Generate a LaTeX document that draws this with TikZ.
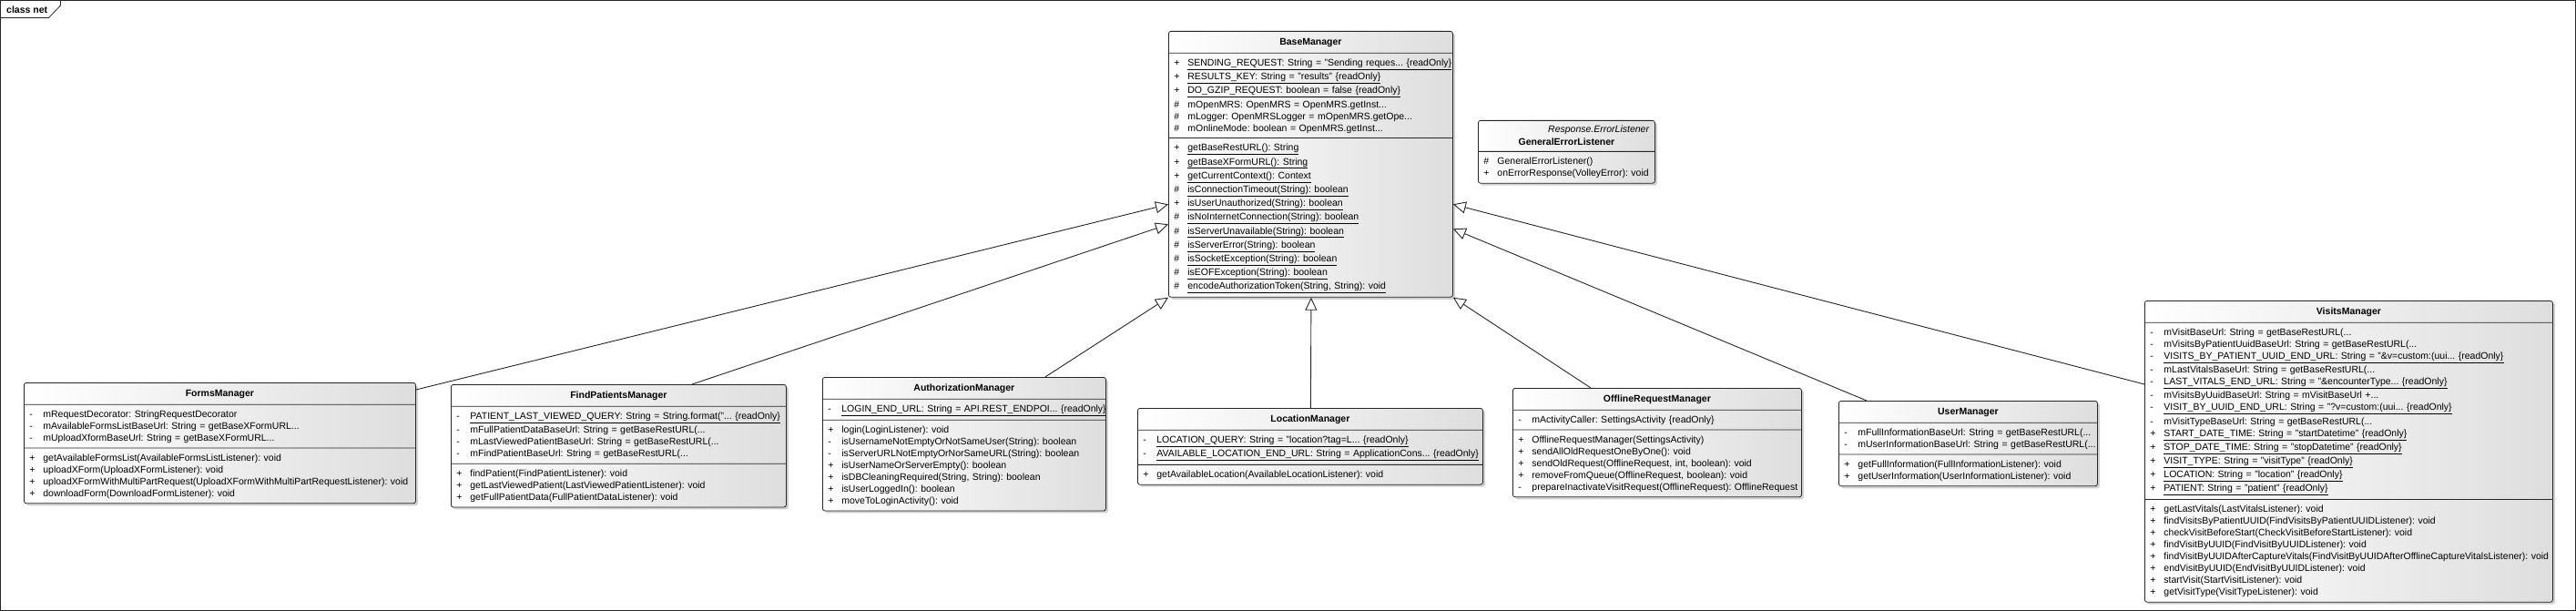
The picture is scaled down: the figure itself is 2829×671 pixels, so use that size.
\documentclass[tikz,border=0pt]{standalone}
\usepackage{fontspec}
\setmainfont{Liberation Sans}
\usetikzlibrary{shapes.multipart,shadows,arrows.meta,calc}
\frenchspacing
\newcommand\mystrut{\rule[-3pt]{0pt}{13pt}}
\newcommand\rr[2]{\mystrut\makebox[15pt][l]{#1}\mbox{#2}\par}
\newcommand\ru[2]{\mystrut\makebox[15pt][l]{#1}\underline{\mbox{#2}}\par}
\newcommand\ttl[1]{\hbox to\linewidth{\rule[-4pt]{0pt}{15pt}\hss\textbf{#1}\hss}\par}
\tikzset{
  cls/.style={rectangle split, rectangle split parts=3, draw=black!85, line width=0.8pt,
    rounded corners=2.5pt, left color=white, right color=black!13,
    text width=#1, inner xsep=6pt, inner ysep=4pt, anchor=north west,
    font=\fontsize{10.5}{13}\selectfont\frenchspacing,
    drop shadow={shadow xshift=2.5pt, shadow yshift=-2.5pt, opacity=0.3, fill=black!60}},
  gen/.style={-{Triangle[open,length=14pt,width=13pt]}, line width=0.9pt, draw=black!85},
  frm/.style={draw=black!85, line width=0.8pt},
}
\begin{document}
\begin{tikzpicture}[x=1pt,y=-1pt]
\useasboundingbox (0,0) rectangle (2829,671);
\fill[white] (0,0) rectangle (2829,671);
\draw[frm] (0.5,0.5) rectangle (2828,670);
\draw[frm] (0.5,19.5) -- (53.5,19.5) -- (66.5,6) -- (66.5,0.5);
\node[anchor=west, inner sep=0pt, font=\fontsize{10.5}{13}\selectfont\bfseries] (tab) at (7,11) {class net};

\node[cls=300pt] (base) at (1283,34) {\ttl{BaseManager}
\nodepart{two}
\ru{+}{SENDING\_REQUEST: String = "Sending reques... \{readOnly\}}
\ru{+}{RESULTS\_KEY: String = "results" \{readOnly\}}
\ru{+}{DO\_GZIP\_REQUEST: boolean = false \{readOnly\}}
\rr{\#}{mOpenMRS: OpenMRS = OpenMRS.getInst...}
\rr{\#}{mLogger: OpenMRSLogger = mOpenMRS.getOpe...}
\rr{\#}{mOnlineMode: boolean = OpenMRS.getInst...}
\nodepart{three}
\ru{+}{getBaseRestURL(): String}
\ru{+}{getBaseXFormURL(): String}
\ru{+}{getCurrentContext(): Context}
\ru{\#}{isConnectionTimeout(String): boolean}
\ru{+}{isUserUnauthorized(String): boolean}
\ru{\#}{isNoInternetConnection(String): boolean}
\ru{\#}{isServerUnavailable(String): boolean}
\ru{\#}{isServerError(String): boolean}
\ru{\#}{isSocketException(String): boolean}
\ru{\#}{isEOFException(String): boolean}
\ru{\#}{encodeAuthorizationToken(String, String): void}
};

\node[cls=182pt, rectangle split parts=2] (gel) at (1623,132) {\hbox to\linewidth{\rule[-2pt]{0pt}{11pt}\hfill\textit{Response.ErrorListener}}\par
\hbox to\linewidth{\rule[-2pt]{0pt}{13pt}\hss\textbf{GeneralErrorListener}\hss}\par
\nodepart{two}
\rr{\#}{GeneralErrorListener()}
\rr{+}{onErrorResponse(VolleyError): void}
};

\node[cls=418pt] (forms) at (26,420) {\ttl{FormsManager}
\nodepart{two}
\rr{-}{mRequestDecorator: StringRequestDecorator}
\rr{-}{mAvailableFormsListBaseUrl: String = getBaseXFormURL...}
\rr{-}{mUploadXformBaseUrl: String = getBaseXFormURL...}
\nodepart{three}
\rr{+}{getAvailableFormsList(AvailableFormsListListener): void}
\rr{+}{uploadXForm(UploadXFormListener): void}
\rr{+}{uploadXFormWithMultiPartRequest(UploadXFormWithMultiPartRequestListener): void}
\rr{+}{downloadForm(DownloadFormListener): void}
};

\node[cls=356pt] (find) at (495,422) {\ttl{FindPatientsManager}
\nodepart{two}
\ru{-}{PATIENT\_LAST\_VIEWED\_QUERY: String = String.format("... \{readOnly\}}
\rr{-}{mFullPatientDataBaseUrl: String = getBaseRestURL(...}
\rr{-}{mLastViewedPatientBaseUrl: String = getBaseRestURL(...}
\rr{-}{mFindPatientBaseUrl: String = getBaseRestURL(...}
\nodepart{three}
\rr{+}{findPatient(FindPatientListener): void}
\rr{+}{getLastViewedPatient(LastViewedPatientListener): void}
\rr{+}{getFullPatientData(FullPatientDataListener): void}
};

\node[cls=299pt] (auth) at (903,414) {\ttl{AuthorizationManager}
\nodepart{two}
\ru{-}{LOGIN\_END\_URL: String = API.REST\_ENDPOI... \{readOnly\}}
\nodepart{three}
\rr{+}{login(LoginListener): void}
\rr{-}{isUsernameNotEmptyOrNotSameUser(String): boolean}
\rr{-}{isServerURLNotEmptyOrNorSameURL(String): boolean}
\rr{+}{isUserNameOrServerEmpty(): boolean}
\rr{+}{isDBCleaningRequired(String, String): boolean}
\rr{+}{isUserLoggedIn(): boolean}
\rr{+}{moveToLoginActivity(): void}
};

\node[cls=367pt] (loc) at (1249,448) {\ttl{LocationManager}
\nodepart{two}
\ru{-}{LOCATION\_QUERY: String = "location?tag=L... \{readOnly\}}
\ru{-}{AVAILABLE\_LOCATION\_END\_URL: String = ApplicationCons... \{readOnly\}}
\nodepart{three}
\rr{+}{getAvailableLocation(AvailableLocationListener): void}
};

\node[cls=305pt] (off) at (1661,426) {\ttl{OfflineRequestManager}
\nodepart{two}
\rr{-}{mActivityCaller: SettingsActivity \{readOnly\}}
\nodepart{three}
\rr{+}{OfflineRequestManager(SettingsActivity)}
\rr{+}{sendAllOldRequestOneByOne(): void}
\rr{+}{sendOldRequest(OfflineRequest, int, boolean): void}
\rr{+}{removeFromQueue(OfflineRequest, boolean): void}
\rr{-}{prepareInactivateVisitRequest(OfflineRequest): OfflineRequest}
};

\node[cls=272pt] (user) at (2019,440) {\ttl{UserManager}
\nodepart{two}
\rr{-}{mFullInformationBaseUrl: String = getBaseRestURL(...}
\rr{-}{mUserInformationBaseUrl: String = getBaseRestURL(...}
\nodepart{three}
\rr{+}{getFullInformation(FullInformationListener): void}
\rr{+}{getUserInformation(UserInformationListener): void}
};

\node[cls=436pt] (visits) at (2355,330) {\ttl{VisitsManager}
\nodepart{two}
\rr{-}{mVisitBaseUrl: String = getBaseRestURL(...}
\rr{-}{mVisitsByPatientUuidBaseUrl: String = getBaseRestURL(...}
\ru{-}{VISITS\_BY\_PATIENT\_UUID\_END\_URL: String = "\&v=custom:(uui... \{readOnly\}}
\rr{-}{mLastVitalsBaseUrl: String = getBaseRestURL(...}
\ru{-}{LAST\_VITALS\_END\_URL: String = "\&encounterType... \{readOnly\}}
\rr{-}{mVisitsByUuidBaseUrl: String = mVisitBaseUrl +...}
\ru{-}{VISIT\_BY\_UUID\_END\_URL: String = "?v=custom:(uui... \{readOnly\}}
\rr{-}{mVisitTypeBaseUrl: String = getBaseRestURL(...}
\ru{+}{START\_DATE\_TIME: String = "startDatetime" \{readOnly\}}
\ru{+}{STOP\_DATE\_TIME: String = "stopDatetime" \{readOnly\}}
\ru{+}{VISIT\_TYPE: String = "visitType" \{readOnly\}}
\ru{+}{LOCATION: String = "location" \{readOnly\}}
\ru{+}{PATIENT: String = "patient" \{readOnly\}}
\nodepart{three}
\rr{+}{getLastVitals(LastVitalsListener): void}
\rr{+}{findVisitsByPatientUUID(FindVisitsByPatientUUIDListener): void}
\rr{+}{checkVisitBeforeStart(CheckVisitBeforeStartListener): void}
\rr{+}{findVisitByUUID(FindVisitByUUIDListener): void}
\rr{+}{findVisitByUUIDAfterCaptureVitals(FindVisitByUUIDAfterOfflineCaptureVitalsListener): void}
\rr{+}{endVisitByUUID(EndVisitByUUIDListener): void}
\rr{+}{startVisit(StartVisitListener): void}
\rr{+}{getVisitType(VisitTypeListener): void}
};

% generalizations
\draw[gen] ([yshift=-8pt]forms.north east) -- ([yshift=-44pt]base.west);
\draw[gen] ([xshift=265pt]find.north west) -- ([yshift=-66pt]base.west);
\draw[gen] ([xshift=-67pt]auth.north east) -- (base.south west);
\draw[gen] ([xshift=0.5pt]loc.north) -- ([xshift=0.5pt]base.south);
\draw[gen] ([xshift=86pt]off.north west) -- (base.south east);
\draw[gen] ([xshift=31pt]user.north west) -- ([yshift=-71pt]base.east);
\draw[gen] ([yshift=-92pt]visits.north west) -- ([yshift=-44pt]base.east);
\end{tikzpicture}
\end{document}
